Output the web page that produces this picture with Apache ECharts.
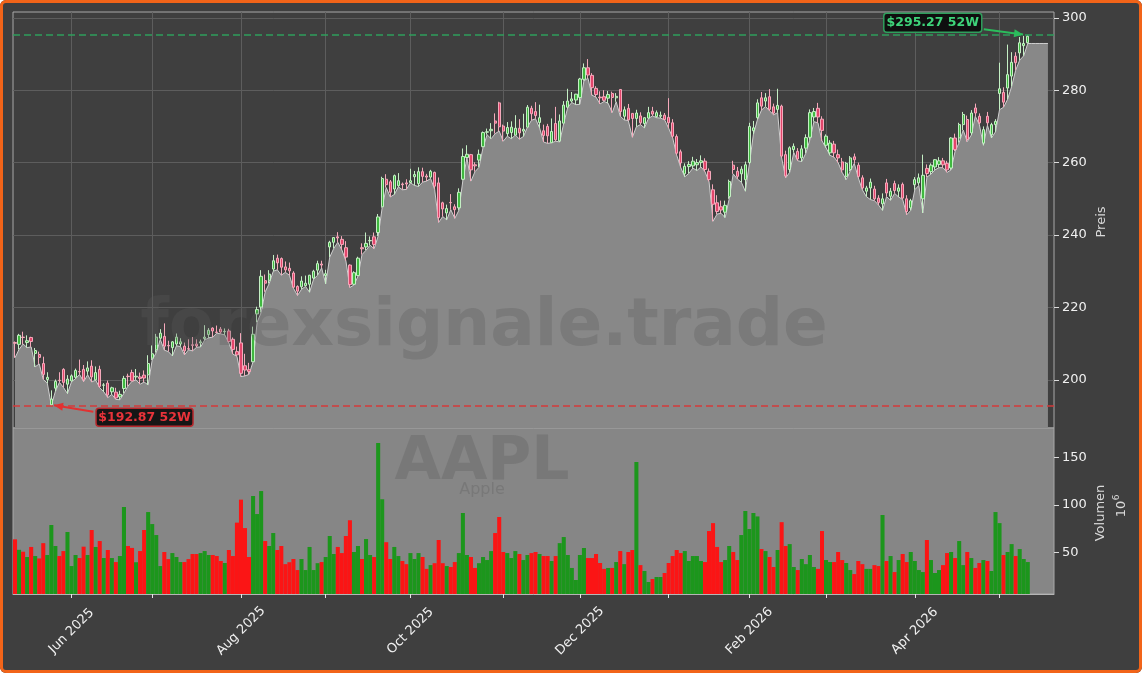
<!DOCTYPE html>
<html>
<head>
<meta charset="utf-8">
<title>AAPL</title>
<script src="https://cdn.jsdelivr.net/npm/echarts@6/dist/echarts.min.js"></script>
<style>
  html, body { margin: 0; padding: 0; background: #ffffff; }
  #wrap { position: relative; width: 1142px; height: 673px; }
  #chart { position: absolute; left: 0; top: 0; width: 1142px; height: 673px; background: #3f3f3f; border-radius: 6px; }
  #frame { position: absolute; left: 0; top: 0; width: 1142px; height: 673px; box-sizing: border-box;
           border: 3px solid #f26419; border-radius: 6px; pointer-events: none; }
</style>
</head>
<body>
<div id="wrap"><div id="chart"></div><div id="frame"></div></div>
<script>
// AAPL daily candles, 12 May 2025 .. 12 May 2026 (trading day index 0..251)
const opens = [
  210.3, 209.8, 211.8, 210.3, 211.7, 207.3, 207.0, 204.5, 200.1, 193.1, 197.7, 199.9, 202.9, 198.8,
  199.7, 200.7, 202.3, 202.9, 202.4, 203.8, 200.0, 202.9, 198.5, 199.1, 196.7, 196.6, 195.3, 197.6, 201.0, 202.0, 200.8, 200.8, 201.3, 201.4,
  206.0, 208.3, 211.5, 212.0, 209.5, 208.9, 209.9, 209.9, 209.3, 208.6, 209.7, 209.9, 210.2, 211.4, 212.5, 214.3, 213.2, 214.0, 213.3, 213.5, 211.2, 207.8,
  210.2, 203.9, 202.8, 205.0, 218.2, 220.1, 227.4, 227.5, 230.6, 233.6, 233.5, 231.2, 230.8, 229.5, 225.8, 225.7, 226.0, 226.4, 228.1, 230.3, 232.0,
  228.8, 236.7, 238.0, 239.5, 238.8, 236.5, 231.7, 226.4, 228.8, 236.5, 236.7, 238.4, 239.5, 240.7, 247.8, 255.4, 254.7, 252.7, 253.6, 254.1, 254.4,
  254.5, 256.1, 254.2, 257.5, 256.3, 256.0, 257.3, 254.4, 248.9, 246.1, 249.0, 247.8, 247.5, 255.4, 261.4, 262.2, 259.4, 260.7, 264.4, 268.4, 268.8, 271.5, 276.5,
  270.1, 268.0, 268.3, 267.6, 269.5, 268.7, 269.8, 275.0, 274.1, 271.1, 268.8, 270.0, 265.5, 270.8, 266.0, 270.9, 275.3, 277.0, 277.3,
  278.0, 283.0, 286.2, 284.1, 280.5, 278.1, 278.2, 277.8, 279.1, 277.9, 280.2, 272.8, 275.0, 273.6, 272.2, 272.9, 270.8, 272.3, 274.2, 272.7, 272.8, 273.1,
  272.5, 271.0, 267.2, 263.0, 256.9, 258.9, 259.1, 259.4, 260.0, 260.4, 257.6, 252.5, 248.9, 247.8, 246.3, 250.6, 259.3, 257.6, 256.9, 255.3, 260.0, 268.8, 272.4,
  277.9, 277.0, 278.2, 275.4, 274.7, 275.6, 262.2, 258.1, 263.6, 263.1, 261.3, 264.0, 267.0, 272.6, 275.0, 272.0,
  264.8, 262.7, 265.1, 262.2, 260.2, 256.2, 258.1, 261.6, 259.3, 255.8, 252.1, 253.0, 252.7, 250.2, 248.6, 254.4, 250.7, 254.2, 252.1, 254.0, 250.0, 247.5,
  253.9, 254.4, 250.0, 258.4, 257.5, 258.8, 259.5, 260.5, 259.8, 258.5, 266.8, 266.8, 270.5, 271.9, 268.2, 275.1, 272.8, 265.4, 272.8, 267.7, 270.5,
  279.1, 279.4, 280.6, 283.9, 289.4, 290.3, 292.3, 293.1
];
const highs = [
  210.6, 212.7, 213.3, 212.3, 211.9, 208.8, 207.8, 206.4, 202.1, 197.1, 200.1, 202.1, 203.2, 201.3,
  201.5, 203.1, 205.6, 204.1, 205.1, 205.4, 203.7, 203.9, 199.1, 199.8, 198.1, 197.8, 197.0, 201.1, 201.7, 202.8, 203.0, 202.0, 202.6, 206.8,
  209.5, 212.7, 214.0, 215.6, 210.8, 210.7, 212.8, 211.5, 210.3, 211.2, 211.8, 211.2, 211.1, 215.1, 214.3, 214.5, 215.0, 214.6, 214.2, 214.1, 211.7, 209.2,
  212.9, 207.2, 204.7, 214.7, 220.2, 230.3, 229.1, 230.3, 234.5, 234.6, 233.8, 232.7, 232.4, 230.0, 226.1, 228.6, 228.8, 229.0, 230.4, 232.9, 232.9,
  230.4, 238.4, 239.4, 240.8, 239.7, 238.3, 231.9, 230.0, 234.0, 237.7, 240.7, 239.6, 240.7, 245.8, 256.1, 256.8, 255.2, 256.7, 257.1, 254.5, 255.4,
  258.3, 257.7, 258.7, 258.6, 256.9, 258.0, 257.5, 255.9, 249.2, 248.4, 251.3, 248.5, 252.9, 263.9, 264.8, 262.4, 260.1, 263.6, 268.6, 269.4, 270.9, 273.6, 276.8,
  270.5, 271.2, 271.4, 273.1, 272.0, 273.5, 275.9, 275.7, 276.7, 276.0, 270.5, 270.7, 272.2, 275.4, 273.3, 277.0, 280.4, 279.5, 279.0,
  283.4, 287.4, 288.6, 284.7, 281.1, 279.7, 280.0, 279.8, 279.6, 279.2, 280.2, 275.5, 276.2, 273.6, 274.6, 273.9, 272.5, 275.4, 275.4, 274.4, 274.1, 273.7,
  277.8, 272.0, 267.8, 263.6, 259.8, 260.4, 261.6, 261.0, 262.0, 261.2, 258.4, 254.0, 251.0, 249.5, 249.5, 255.3, 260.5, 258.8, 259.0, 260.3, 271.0, 271.5, 277.5,
  279.5, 279.2, 280.3, 276.3, 280.4, 276.0, 263.3, 264.5, 265.3, 264.0, 264.8, 267.8, 274.7, 275.1, 276.5, 272.8,
  267.8, 266.2, 266.0, 263.6, 261.3, 260.2, 261.8, 262.5, 260.0, 256.5, 253.6, 255.6, 253.6, 251.0, 251.5, 255.5, 253.0, 255.0, 254.0, 254.5, 251.0, 250.0,
  256.0, 257.0, 262.2, 259.5, 259.8, 261.0, 261.5, 261.3, 260.5, 267.0, 268.0, 271.0, 274.0, 273.0, 274.5, 276.3, 273.6, 270.0, 274.0, 271.0, 272.0,
  287.6, 280.8, 292.6, 290.5, 290.5, 294.7, 295.0, 295.27
];
const lows = [
  206.1, 208.4, 209.9, 208.9, 209.1, 203.6, 204.4, 200.1, 199.1, 192.87, 196.8, 199.3, 197.9, 196.2,
  199.5, 200.3, 201.5, 199.5, 201.4, 199.4, 199.9, 197.8, 196.7, 195.1, 196.0, 194.6, 194.5, 196.3, 198.3, 199.6, 200.0, 198.8, 199.4, 198.6,
  205.5, 207.5, 211.2, 208.2, 207.8, 206.6, 209.4, 209.2, 206.9, 208.3, 208.0, 209.0, 209.1, 211.0, 211.6, 211.8, 212.9, 212.7, 212.4, 210.2, 207.1, 206.5,
  200.9, 201.1, 201.5, 205.0, 215.9, 218.6, 224.3, 226.6, 230.0, 230.4, 228.9, 229.7, 228.9, 225.3, 223.3, 225.0, 225.8, 224.2, 227.8, 228.9, 230.9,
  226.5, 233.9, 236.3, 238.0, 235.9, 232.9, 225.5, 226.2, 228.6, 234.6, 235.8, 237.2, 236.2, 239.7, 247.6, 253.1, 250.5, 251.2, 253.3, 252.5, 252.6,
  254.4, 253.7, 253.4, 254.6, 254.9, 255.6, 252.6, 243.5, 245.1, 244.2, 247.0, 244.6, 246.8, 255.1, 261.3, 254.9, 257.5, 258.7, 264.2, 267.7, 266.6, 268.0, 268.7,
  265.9, 267.3, 266.6, 267.6, 266.5, 267.2, 269.8, 271.7, 272.1, 269.6, 265.7, 265.3, 265.5, 265.9, 265.7, 270.9, 275.3, 276.6, 276.0,
  276.1, 282.6, 283.3, 278.6, 278.1, 276.2, 276.9, 276.4, 273.8, 276.8, 272.8, 271.8, 271.6, 267.0, 269.9, 270.5, 269.6, 272.2, 272.9, 272.4, 272.3, 271.8,
  269.5, 266.8, 262.0, 258.6, 256.1, 257.0, 258.5, 257.8, 258.8, 257.5, 254.8, 243.8, 245.8, 246.0, 244.8, 250.0, 256.9, 255.5, 254.6, 252.1, 259.6, 267.8, 271.9,
  274.5, 275.5, 274.3, 273.2, 273.8, 261.3, 255.8, 257.3, 262.8, 260.5, 260.3, 262.6, 266.3, 271.3, 271.0, 266.0,
  264.1, 262.0, 261.5, 260.0, 257.3, 255.3, 257.6, 259.8, 255.8, 252.5, 250.6, 249.8, 249.5, 248.3, 246.8, 250.6, 249.6, 251.5, 250.5, 249.8, 245.6, 246.8,
  252.5, 253.7, 246.1, 256.0, 256.8, 258.0, 258.6, 258.6, 257.3, 258.0, 263.2, 265.5, 269.0, 265.8, 267.6, 272.8, 270.5, 264.8, 270.3, 266.8, 268.5,
  274.6, 275.3, 277.5, 281.0, 285.5, 288.3, 289.5, 292.9
];
const closes = [
  210.1, 212.3, 211.7, 210.8, 210.6, 208.1, 206.2, 201.5, 200.7, 194.7, 199.6, 199.8, 199.3, 200.2,
  201.1, 202.6, 202.2, 200.0, 203.3, 200.8, 202.0, 198.2, 198.6, 195.8, 197.8, 195.0, 196.0, 200.4, 200.9, 199.7, 201.0, 200.4, 200.5, 204.5,
  207.2, 211.8, 212.9, 209.3, 209.4, 210.5, 211.8, 210.5, 208.0, 208.5, 209.5, 209.4, 210.5, 211.8, 213.7, 213.5, 213.1, 213.2, 213.4, 210.6, 208.4, 206.9,
  201.8, 202.7, 202.3, 212.6, 219.4, 228.6, 226.7, 229.2, 232.9, 232.3, 231.1, 230.4, 230.1, 225.6, 224.5, 227.3, 226.7, 228.9, 230.0, 232.1, 231.7,
  229.3, 238.0, 239.3, 239.2, 237.4, 233.9, 226.3, 229.6, 233.6, 236.2, 237.7, 238.5, 237.4, 245.0, 255.6, 253.9, 251.8, 256.4, 255.0, 253.9, 254.1,
  255.0, 256.7, 257.5, 256.2, 256.0, 257.6, 253.5, 244.8, 247.2, 247.3, 248.9, 247.0, 251.8, 261.7, 262.3, 258.0, 259.1, 262.3, 268.3, 268.5, 269.2, 270.9, 269.9,
  268.7, 269.7, 269.8, 269.5, 268.2, 269.2, 275.3, 273.5, 273.0, 272.4, 267.5, 267.4, 268.6, 266.3, 271.5, 275.9, 277.0, 277.6, 278.9,
  283.1, 286.2, 284.2, 280.7, 278.8, 277.9, 277.2, 278.8, 278.0, 278.3, 274.1, 274.6, 271.8, 272.2, 273.7, 271.0, 272.4, 273.8, 273.4, 273.8, 273.1, 271.9,
  271.0, 267.3, 262.6, 259.9, 259.0, 259.5, 260.4, 260.0, 260.5, 258.1, 255.3, 248.5, 246.5, 246.9, 248.2, 254.8, 258.1, 256.2, 258.2, 259.4, 270.0, 269.6, 276.5,
  275.6, 277.9, 274.7, 273.7, 275.8, 261.8, 256.3, 264.1, 264.5, 261.0, 263.8, 266.9, 273.8, 274.1, 272.6, 268.9,
  267.3, 265.4, 262.7, 261.3, 258.0, 259.8, 261.3, 260.8, 256.2, 253.0, 253.0, 254.6, 250.0, 249.0, 250.0, 251.6, 252.1, 252.3, 253.0, 250.2, 246.5, 249.5,
  255.3, 255.8, 256.5, 257.0, 259.3, 260.8, 260.5, 259.4, 258.0, 266.8, 263.6, 270.5, 273.3, 266.4, 273.7, 273.7, 271.0, 269.1, 271.0, 270.5, 271.4,
  280.4, 276.7, 284.3, 287.7, 287.6, 293.1, 292.9, 294.9
];
// volume in millions
const volumes = [
  64, 53, 51, 45.5, 56, 46.5, 44, 60, 47.6, 79, 57, 46.5, 51.7, 71.7,
  36, 47.6, 44.4, 56.3, 47.6, 73.8, 56, 62.2, 44.4, 52.8, 44.4, 40.2, 46.5, 97.9, 57, 55, 40, 51.7, 73.8, 92.6,
  80, 68.5, 36, 50.7, 43.3, 49.6, 45.5, 40.2, 40.2, 43.3, 48.6, 48.6, 49.6, 51.7, 47.6, 47.6, 46.5, 41.3, 39.2, 52.8, 46.5, 81.5,
  105.6, 75.8, 45.5, 109.4, 90.5, 114.6, 62.2, 57, 70.6, 52.8, 57, 38, 40, 43.4, 31.8, 43.4, 31.8, 56, 31.8, 39, 40.2,
  45.5, 67.5, 48.6, 56, 49.6, 67.5, 84, 50.7, 57, 43.4, 64.3, 47.6, 45.5, 165, 106, 61, 43.4, 56, 46.5, 41.3, 38,
  49.6, 43.4, 49.6, 45.5, 33, 37, 39, 63.3, 39, 36, 35, 40.2, 49.6, 91.6, 47.6, 45.5, 34, 39, 45.5, 42.3, 51.7, 70.6, 87.4,
  50.7, 49.6, 44.4, 51.7, 48.6, 42.3, 47.6, 49.6, 50.7, 48.6, 46.5, 46.5, 41.3, 46.5, 60, 66.4, 47.6, 34, 21.4,
  47.6, 54.9, 44.4, 44.4, 48.6, 39.2, 33, 34, 34, 40.2, 51.7, 38, 50.7, 52.8, 145, 37, 30.8, 19.3, 22.4, 24.5, 24.5, 28.7,
  39.2, 46.5, 52.8, 49.6, 51.7, 41.3, 46.5, 46.5, 41.3, 40.2, 72.7, 81, 56, 40.2, 42.3, 57, 50.7, 42.3, 68.5, 93.7, 74.8, 91.6, 88,
  53.8, 51.7, 45.5, 35, 52.8, 82, 57, 59, 35, 31.8, 43.4, 38, 47.6, 35, 33, 72.7,
  42.3, 40.2, 40.2, 50.7, 42.3, 39.2, 31.8, 27.6, 41.3, 38, 33, 33, 37, 36, 89.5, 41.3, 46.5, 29.7, 42.3, 48.6, 40.2, 50.7,
  41.3, 31.8, 29.7, 63.3, 42.3, 28.7, 31.8, 37, 49.6, 50.7, 44.4, 62.2, 37, 50.7, 44.4, 34, 39.2, 42.3, 41.3, 30.8, 92.6,
  81, 47.6, 50.7, 59, 46.5, 53.8, 43.4, 40.2
];
// first trading day of each month (index) and its label
const monthTicks = [14, 34, 56, 77, 98, 121, 140, 162, 182, 201, 223, 244];
const monthLabels = ['Jun 2025', '', 'Aug 2025', '', 'Oct 2025', '', 'Dec 2025', '', 'Feb 2026', '', 'Apr 2026', ''];
const priceTicks = [200, 220, 240, 260, 280, 300];
const volumeTicks = [50, 100, 150];
const high52 = 295.27;
const low52 = 192.87;

const upColor = '#3fb83f', downColor = '#e2456b';
const volUp = '#1c961c', volDown = '#fb1515';
const spine = '#a9a9a9', gridColor = '#5d5d5d', tickText = '#f0f0f0';

// 252 candles + some empty room on the right
const slotCount = 258;
const slots = [];
for (let i = 0; i < slotCount; i++) slots.push(String(i));

const labelAt = {};
monthTicks.forEach((t, k) => { if (monthLabels[k]) labelAt[t] = monthLabels[k]; });

const candleData = opens.map((o, i) => [o, closes[i], lows[i], highs[i]]);
const volumeData = volumes.map((v, i) => ({
  value: v,
  itemStyle: { color: closes[i] >= opens[i] ? volUp : volDown }
}));
// the grey fill follows the lows and runs flat a few slots past the last candle
const lastLow = lows[lows.length - 1];
const lowLine = lows.concat([lastLow, lastLow, lastLow, lastLow, lastLow]);

const chart = echarts.init(document.getElementById('chart'));

const option = {
  animation: false,
  backgroundColor: 'transparent',
  textStyle: { fontFamily: 'DejaVu Sans' },
  grid: [
    { left: 13, right: 88, top: 12, height: 416, show: true, backgroundColor: '#3f3f3f',
      borderColor: spine, borderWidth: 1, outerBoundsMode: 'none' },
    { left: 13, right: 88, top: 428, height: 166, show: true, backgroundColor: '#868686',
      borderColor: spine, borderWidth: 1, outerBoundsMode: 'none' }
  ],
  xAxis: [
    {
      type: 'category', gridIndex: 0, data: slots, boundaryGap: true,
      axisLine: { show: false }, axisTick: { show: false }, axisLabel: { show: false },
      splitLine: {
        show: true, alignWithLabel: true,
        interval: (i) => monthTicks.indexOf(i) >= 0,
        lineStyle: { color: gridColor, width: 1 }
      }
    },
    {
      type: 'category', gridIndex: 1, data: slots, boundaryGap: true,
      axisLine: { show: true, lineStyle: { color: '#b5b5b5' } },
      axisTick: {
        show: true, alignWithLabel: true, length: 4,
        interval: (i) => monthTicks.indexOf(i) >= 0,
        lineStyle: { color: '#e6e6e6' }
      },
      axisLabel: {
        show: true,
        interval: (i) => labelAt[i] !== undefined,
        formatter: (v, i) => labelAt[i] || '',
        rotate: 45, align: 'center', verticalAlign: 'middle', margin: 37,
        color: tickText, fontSize: 13
      },
      splitLine: { show: false }
    }
  ],
  yAxis: [
    {
      type: 'value', gridIndex: 0, position: 'right', min: 186.7, max: 301.6,
      axisLine: { show: false },
      axisTick: { show: true, customValues: priceTicks, length: 5, lineStyle: { color: '#dcdcdc' } },
      axisLabel: { customValues: priceTicks, margin: 8, color: tickText, fontSize: 13 },
      splitLine: { show: true, lineStyle: { color: gridColor, width: 1 } }
    },
    {
      type: 'value', gridIndex: 1, position: 'right', min: 6.7, max: 180.7,
      axisLine: { show: false },
      axisTick: { show: true, customValues: volumeTicks, length: 5, lineStyle: { color: '#dcdcdc' } },
      axisLabel: { customValues: volumeTicks, margin: 8, color: tickText, fontSize: 13 },
      splitLine: { show: false }
    }
  ],
  series: [
    {
      name: 'Low', type: 'line', xAxisIndex: 0, yAxisIndex: 0,
      data: lowLine, symbol: 'none', z: 2,
      lineStyle: { color: '#cfcfcf', width: 1 },
      areaStyle: { color: '#888888', opacity: 1, origin: 'start' },
      markLine: {
        silent: true, symbol: 'none', label: { show: false }, animation: false,
        data: [
          { yAxis: high52, lineStyle: { color: '#2f9e5c', type: [7, 4], width: 1.5 } },
          { yAxis: low52, lineStyle: { color: '#d43a3a', type: [7, 4], width: 1.5 } }
        ]
      }
    },
    {
      name: 'AAPL', type: 'candlestick', xAxisIndex: 0, yAxisIndex: 0,
      data: candleData, barWidth: '70%', z: 3,
      itemStyle: {
        color: upColor, color0: downColor,
        borderColor: '#c4efc4', borderColor0: '#f5a9bb', borderWidth: 1
      }
    },
    {
      name: 'Volumen', type: 'bar', xAxisIndex: 1, yAxisIndex: 1,
      data: volumeData, barWidth: '100%', clip: true
    }
  ]
};

chart.setOption(option);

// annotations: watermark, axis titles and the 52-week tags
function arrowHead(x0, y0, x1, y1, color) {
  const a = Math.atan2(y1 - y0, x1 - x0);
  const len = 9, half = 4;
  const bx = x1 - len * Math.cos(a), by = y1 - len * Math.sin(a);
  return {
    type: 'polygon', z: 20, silent: true,
    shape: { points: [[x1, y1], [bx + half * Math.sin(a), by - half * Math.cos(a)], [bx - half * Math.sin(a), by + half * Math.cos(a)]] },
    style: { fill: color }
  };
}

function tag(x, y, w, h, text, textColor, stroke) {
  return [
    { type: 'rect', z: 20, silent: true, shape: { x: x, y: y, width: w, height: h, r: 3 },
      style: { fill: 'rgba(10,10,10,0.9)', stroke: stroke, lineWidth: 1.5 } },
    { type: 'text', z: 21, silent: true, x: x + w / 2, y: y + h / 2,
      style: { text: text, fill: textColor, font: 'bold 12.5px "DejaVu Sans"', align: 'center', verticalAlign: 'middle' } }
  ];
}

const hiIdx = highs.indexOf(Math.max.apply(null, highs));
const loIdx = lows.indexOf(Math.min.apply(null, lows));
const pHi = chart.convertToPixel({ xAxisIndex: 0, yAxisIndex: 0 }, [hiIdx, high52]);
const pLo = chart.convertToPixel({ xAxisIndex: 0, yAxisIndex: 0 }, [loIdx, low52]);

const green = '#2bbd5c', red = '#e23131';
const graphics = [
  { type: 'text', z: 10, silent: true, x: 484, y: 328,
    style: { text: 'forexsignale.trade', fill: 'rgba(90,90,90,0.3)', font: 'bold 66px "DejaVu Sans"', align: 'center', verticalAlign: 'middle' } },
  { type: 'text', z: 10, silent: true, x: 482, y: 463,
    style: { text: 'AAPL', fill: 'rgba(90,90,90,0.3)', font: 'bold 60px "DejaVu Sans"', align: 'center', verticalAlign: 'middle' } },
  { type: 'text', z: 10, silent: true, x: 482, y: 490,
    style: { text: 'Apple', fill: 'rgba(90,90,90,0.3)', font: '16px "DejaVu Sans"', align: 'center', verticalAlign: 'middle' } },
  { type: 'text', silent: true, x: 1102, y: 222, rotation: Math.PI / 2,
    style: { text: 'Preis', fill: '#d9d9d9', font: '13px "DejaVu Sans"', align: 'center', verticalAlign: 'middle' } },
  { type: 'text', silent: true, x: 1101, y: 513, rotation: Math.PI / 2,
    style: { text: 'Volumen', fill: '#d9d9d9', font: '13px "DejaVu Sans"', align: 'center', verticalAlign: 'middle' } },
  { type: 'text', silent: true, x: 1122, y: 509, rotation: Math.PI / 2,
    style: { text: '10', fill: '#d9d9d9', font: '13px "DejaVu Sans"', align: 'center', verticalAlign: 'middle' } },
  { type: 'text', silent: true, x: 1117, y: 497.5, rotation: Math.PI / 2,
    style: { text: '6', fill: '#d9d9d9', font: '9px "DejaVu Sans"', align: 'center', verticalAlign: 'middle' } }
];

// 52W high tag, upper right
const hx0 = pHi[0] - 44, hy0 = pHi[1] - 5.6, hx1 = pHi[0] - 4.7, hy1 = pHi[1] - 0.5;
graphics.push({ type: 'line', z: 20, silent: true, shape: { x1: hx0, y1: hy0, x2: hx1, y2: hy1 }, style: { stroke: green, lineWidth: 2 } });
graphics.push(arrowHead(hx0, hy0, hx1, hy1, green));
tag(pHi[0] - 144, pHi[1] - 21.6, 98, 19, '$' + high52.toFixed(2) + ' 52W', '#3ed47a', '#2f9e5c').forEach(g => graphics.push(g));

// 52W low tag, lower left
const lx0 = pLo[0] + 42, ly0 = pLo[1] + 6, lx1 = pLo[0] + 2.7, ly1 = pLo[1] - 0.4;
graphics.push({ type: 'line', z: 20, silent: true, shape: { x1: lx0, y1: ly0, x2: lx1, y2: ly1 }, style: { stroke: red, lineWidth: 2 } });
graphics.push(arrowHead(lx0, ly0, lx1, ly1, red));
tag(pLo[0] + 44.7, pLo[1] + 2.6, 97, 18, '$' + low52.toFixed(2) + ' 52W', '#e8333a', '#b8282d').forEach(g => graphics.push(g));

chart.setOption({ graphic: graphics });
</script>
</body>
</html>
